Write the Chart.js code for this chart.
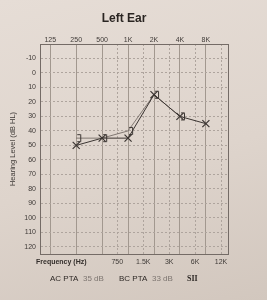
<!DOCTYPE html>
<html>
<head>
<meta charset="utf-8">
<script src="https://cdn.jsdelivr.net/npm/chart.js@4.4.1/dist/chart.umd.min.js"></script>
<style>
    html, body { margin: 0; padding: 0; }
    body {
        width: 267px; height: 300px; overflow: hidden;
        background: linear-gradient(165deg, #e6ddd6 0%, #ded4cc 55%, #d2c7be 100%);
    }
    canvas { display: block; }
</style>
</head>
<body>
<canvas id="audiogram" width="267" height="300"></canvas>
<script>
// Frequency ticks (Hz)
const topFreqs = [125, 250, 500, 1000, 2000, 4000, 8000];
const topLabels = ['125', '250', '500', '1K', '2K', '4K', '8K'];
const midFreqs = [750, 1500, 3000, 6000, 12000];
const midLabels = ['750', '1.5K', '3K', '6K', '12K'];
const dbTicks = [-10, 0, 10, 20, 30, 40, 50, 60, 70, 80, 90, 100, 110, 120];

// Air conduction (X), left ear
const acFreqs = [250, 500, 1000, 2000, 4000, 8000];
const acLevels = [50, 45, 45, 15, 30, 35];

// Bone conduction, masked (])
const bcFreqs = [250, 500, 1000, 2000, 4000];
const bcLevels = [45, 45, 40, 15, 30];

const ink = '#3b3532';

// "]" symbol, drawn a bit to the right of the point
function makeBracket() {
    const c = document.createElement('canvas');
    c.width = 18; c.height = 12;
    const g = c.getContext('2d');
    g.strokeStyle = ink;
    g.lineWidth = 1;
    g.beginPath();
    g.moveTo(10, 2.5);
    g.lineTo(13.5, 2.5);
    g.lineTo(13.5, 9.5);
    g.lineTo(10, 9.5);
    g.stroke();
    return c;
}

// title, right border, footer text
const paperText = {
    id: 'paperText',
    afterDraw(chart) {
        const ctx = chart.ctx;
        const a = chart.chartArea;
        ctx.save();
        ctx.strokeStyle = '#746b66';
        ctx.lineWidth = 1;
        ctx.beginPath();
        ctx.moveTo(Math.round(a.right) + 0.5, a.top);
        ctx.lineTo(Math.round(a.right) + 0.5, a.bottom);
        ctx.stroke();

        ctx.textBaseline = 'middle';
        ctx.fillStyle = '#2a2522';
        ctx.textAlign = 'center';
        ctx.font = 'bold 12px "Liberation Sans", Arial, sans-serif';
        ctx.fillText('Left Ear', 124, 19);

        ctx.textAlign = 'left';
        ctx.fillStyle = '#332e2b';
        ctx.font = 'bold 7px "Liberation Sans", Arial, sans-serif';
        ctx.fillText('Frequency (Hz)', 36, 262);

        ctx.font = '8px "Liberation Sans", Arial, sans-serif';
        ctx.fillStyle = '#2e2926';
        ctx.fillText('AC PTA', 50, 279);
        ctx.fillText('BC PTA', 119, 279);
        ctx.fillStyle = '#7d7570';
        ctx.fillText('35 dB', 83, 279);
        ctx.fillText('33 dB', 152, 279);
        ctx.fillStyle = '#2e2926';
        ctx.font = 'bold 8px "Liberation Serif", serif';
        ctx.fillText('SII', 187, 279);
        ctx.restore();
    }
};

const tickFont = { family: '"Liberation Sans", Arial, sans-serif', size: 7 };

new Chart(document.getElementById('audiogram').getContext('2d'), {
    type: 'line',
    data: {
        datasets: [
            {
                label: 'AC',
                data: acFreqs.map((f, i) => ({ x: f, y: acLevels[i] })),
                xAxisID: 'x',
                yAxisID: 'y',
                borderColor: ink,
                borderWidth: 1,
                pointStyle: 'crossRot',
                pointRadius: 5,
                pointBorderColor: ink,
                pointBorderWidth: 1.2,
                fill: false,
                tension: 0
            },
            {
                label: 'BC',
                data: bcFreqs.map((f, i) => ({ x: f, y: bcLevels[i] })),
                xAxisID: 'x',
                yAxisID: 'y',
                borderColor: '#6a615c',
                borderWidth: 0.8,
                pointStyle: makeBracket(),
                fill: false,
                tension: 0
            }
        ]
    },
    options: {
        responsive: false,
        animation: false,
        devicePixelRatio: 1,
        layout: { padding: { top: 32, right: 39, bottom: 0, left: 0 } },
        plugins: { legend: { display: false }, tooltip: { enabled: false } },
        scales: {
            x: {
                type: 'logarithmic',
                position: 'top',
                min: 95,
                max: 14450,
                afterBuildTicks: s => { s.ticks = topFreqs.map(v => ({ value: v })); },
                afterFit: s => { s.height = 12; },
                ticks: {
                    callback: (v, i) => topLabels[i],
                    font: tickFont, color: '#3f3a37',
                    padding: 0, maxRotation: 0, autoSkip: false
                },
                grid: { color: '#a2988f', lineWidth: 1, drawTicks: false },
                border: { color: '#746b66', width: 1 }
            },
            x2: {
                type: 'logarithmic',
                position: 'bottom',
                min: 95,
                max: 14450,
                afterBuildTicks: s => { s.ticks = midFreqs.map(v => ({ value: v })); },
                afterFit: s => { s.height = 46; },
                ticks: {
                    callback: (v, i) => midLabels[i],
                    font: tickFont, color: '#3f3a37',
                    padding: 4, maxRotation: 0, autoSkip: false
                },
                grid: { color: '#aea49d', lineWidth: 1, drawTicks: false },
                border: { color: '#746b66', width: 1, dash: [2, 2] }
            },
            y: {
                type: 'linear',
                reverse: true,
                min: -20,
                max: 125,
                afterBuildTicks: s => { s.ticks = dbTicks.map(v => ({ value: v })); },
                afterFit: s => { s.width = 40; },
                ticks: { font: tickFont, color: '#3f3a37', padding: 4, autoSkip: false },
                grid: { color: '#aea49d', lineWidth: 1, drawTicks: false },
                border: { color: '#746b66', width: 1, dash: [2, 2] },
                title: {
                    display: true,
                    text: 'Hearing Level (dB HL)',
                    font: { family: '"Liberation Sans", Arial, sans-serif', size: 7.5 },
                    color: '#3f3a37',
                    padding: { top: 8.5, bottom: 0 }
                }
            }
        }
    },
    plugins: [paperText]
});
</script>
</body>
</html>
